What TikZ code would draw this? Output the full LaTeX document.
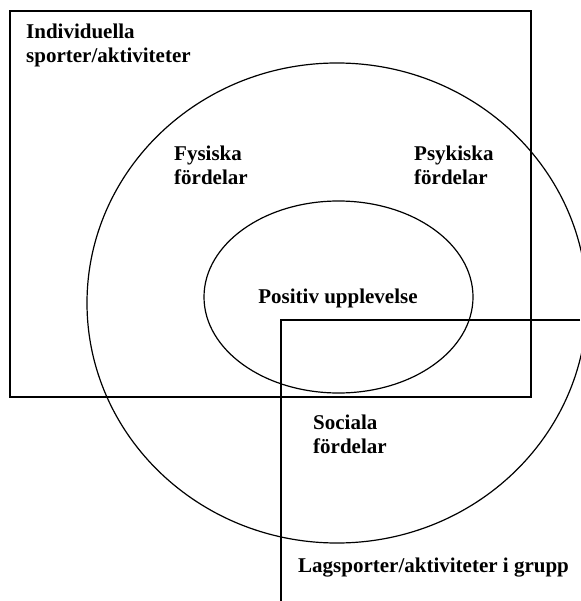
\documentclass[tikz,border=0pt]{standalone}
\usepackage{fontspec}
\setmainfont{Liberation Serif}
\usepackage{tikz}
\usetikzlibrary{positioning,calc}
\tikzset{
  lbl/.style={font=\fontsize{21}{24}\selectfont\bfseries,inner sep=0pt,anchor=base west,align=left},
  edge/.style={line width=1.2pt,black},
}
\begin{document}
\begin{tikzpicture}[x=1pt,y=-1pt]
 \useasboundingbox (0,0) rectangle (580,601);
 % individual sports box
 \draw[edge] (10,11) rectangle (531,397);
 % benefit circles
 \draw[edge] (337,303) ellipse [x radius=250,y radius=240];
 \draw[edge] (338.5,297) ellipse [x radius=134.5,y radius=96];
 % team sports corner
 \coordinate (lagc) at (281,320);
 \draw[edge] (lagc -| 580,0) -- (lagc) -- (lagc |- 0,601);
 % two-line labels sit on their last baseline
 \node[lbl] (indiv) at (26,63) {Individuella\\sporter/aktiviteter};
 \node[lbl] (fys) at (174,185) {Fysiska\\fördelar};
 \node[lbl] (psy) at (414,185) {Psykiska\\fördelar};
 \node[lbl,anchor=base] (pos) at (338,303) {Positiv upplevelse};
 \node[lbl] (soc) at (313,453) {Sociala\\fördelar};
 \node[lbl] (lag) at (298,572) {Lagsporter/aktiviteter i grupp};
\end{tikzpicture}
\end{document}
